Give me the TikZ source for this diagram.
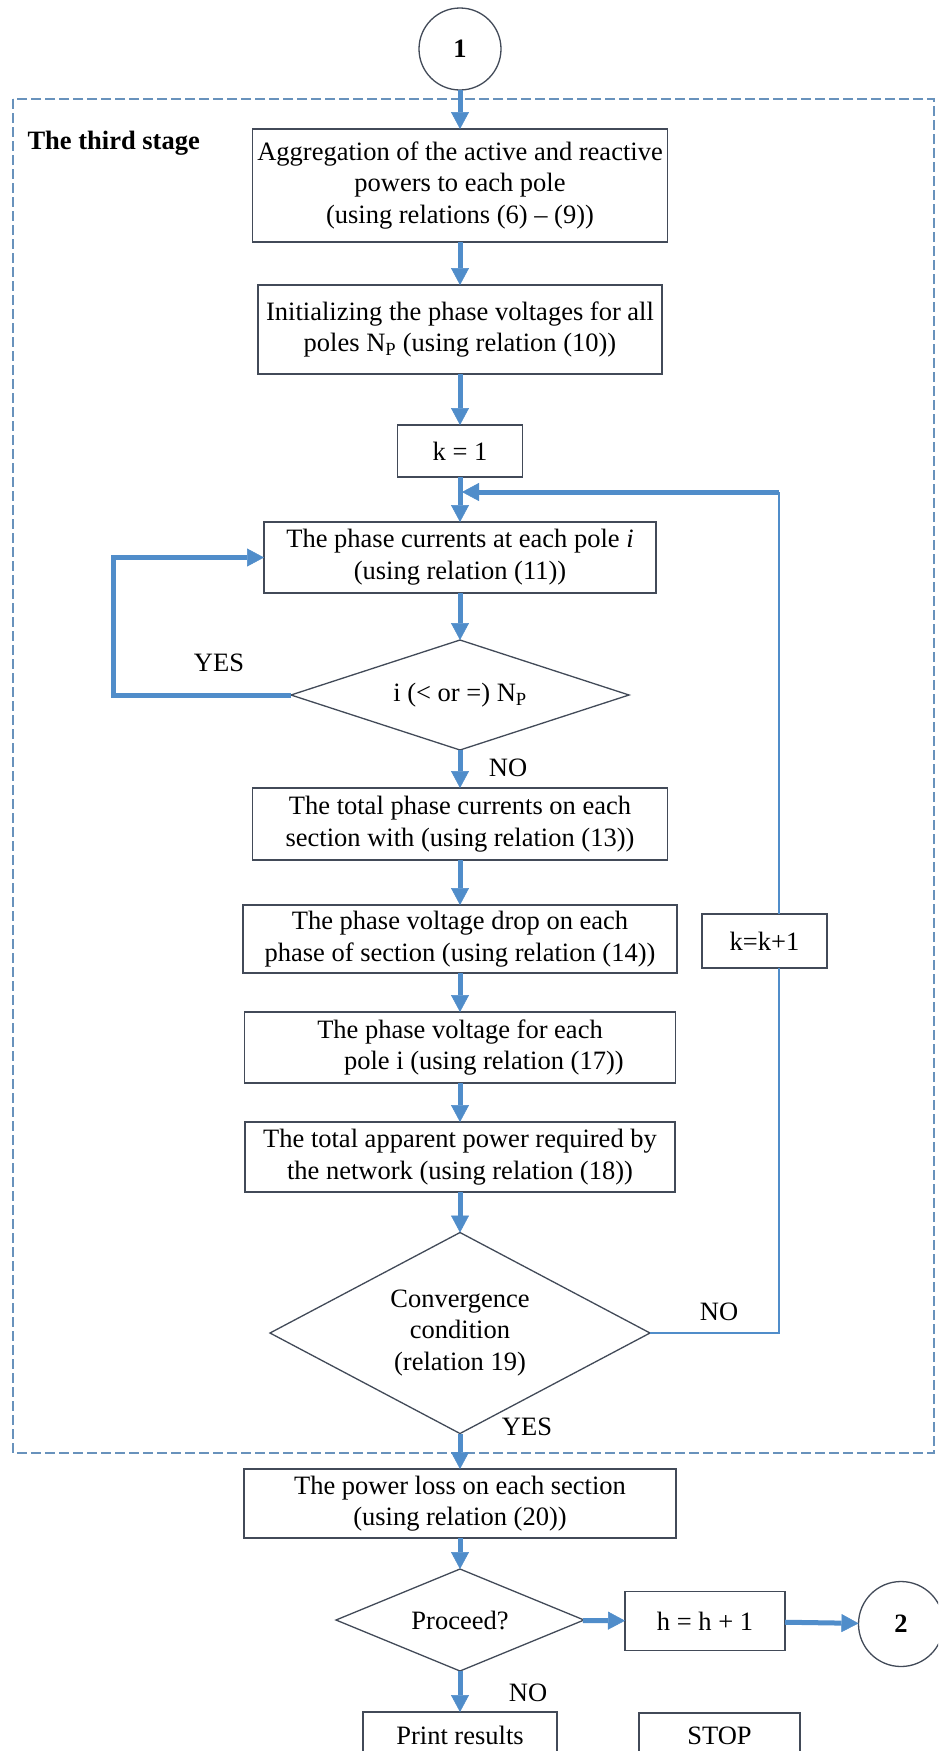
\documentclass[tikz,border=0pt]{standalone}
\usepackage{fontspec}
\setmainfont{Liberation Serif}
\usepackage{xcolor}
\usepackage{tikz}
\usetikzlibrary{positioning, arrows.meta, calc, shapes.geometric}
\definecolor{flowblue}{RGB}{80,141,202}
\definecolor{edgegray}{RGB}{66,74,88}
\definecolor{stageblue}{RGB}{104,146,188}
\newcommand{\flowfont}{\fontsize{26.5}{31.7}\selectfont}

\begin{document}
\begin{tikzpicture}[x=1pt, y=-1pt, font=\flowfont,
  stepbox/.style={rectangle, draw=edgegray, line width=1.3pt, fill=white, align=center, inner sep=0pt, outer sep=0pt},
  decision/.style={diamond, draw=edgegray, line width=1.3pt, fill=white, align=center, inner sep=0pt, outer sep=0pt},
  connector/.style={circle, draw=edgegray, line width=1.3pt, fill=white, inner sep=0pt, outer sep=0pt, font=\flowfont\bfseries},
  flow/.style={draw=flowblue, line width=5pt, -{Triangle[length=17pt, width=18pt, line width=0.5pt]}},
  loopline/.style={draw=flowblue, line width=1.6pt},
  stageframe/.style={draw=stageblue, line width=2pt, dash pattern=on 10pt off 4pt},
  answer/.style={inner sep=0pt}]
  \useasboundingbox (0,0) rectangle (938,1751);
  \clip (0,0) rectangle (938,1751);
  \fill[white] (0,0) rectangle (938,1751);

  \draw[stageframe] (13,99) rectangle (934,1453);
  \node[anchor=west, font=\flowfont\bfseries] (stage) at (24,143) {The third stage};

  \node[connector, minimum size=82pt] (startc) at (460,49) {1};
  \node[stepbox, minimum width=415pt, minimum height=113pt] (aggr) at (460,185.5)
    {Aggregation of the active and reactive\\powers to each pole\\(using relations (6) -- (9))};
  \node[stepbox, minimum width=404pt, minimum height=89pt] (init) at (460,329.5)
    {Initializing the phase voltages for all\\poles N\textsubscript{P} (using relation (10))};
  \node[stepbox, minimum width=125pt, minimum height=52pt] (kone) at (460,451) {k = 1};
  \node[stepbox, minimum width=392pt, minimum height=71pt] (curr) at (460,557.5)
    {The phase currents at each pole \textit{i}\\(using relation (11))};
  \node[decision, aspect=3, minimum width=338pt, minimum height=110pt] (chk) at (460,695)
    {i (< or =) N\textsubscript{P}};
  \node[stepbox, minimum width=415pt, minimum height=72pt] (sumc) at (460,824)
    {The total phase currents on each\\section with (using relation (13))};
  \node[stepbox, minimum width=434pt, minimum height=68pt] (drop) at (460,939)
    {The phase voltage drop on each\\phase of section (using relation (14))};
  \node[stepbox, minimum width=125pt, minimum height=54pt] (kinc) at (764.5,941) {k=k+1};
  \node[stepbox, minimum width=431pt, minimum height=71pt] (volt) at (460,1047.5)
    {The phase voltage for each\\\hspace*{1.8em}pole i (using relation (17))};
  \node[stepbox, minimum width=430pt, minimum height=70pt] (appr) at (460,1157)
    {The total apparent power required by\\the network (using relation (18))};
  \node[decision, aspect=1.9, minimum width=380pt, minimum height=201pt] (conv) at (460,1333)
    {Convergence\\condition\\(relation 19)};
  \node[stepbox, minimum width=432pt, minimum height=69pt] (loss) at (460,1503.5)
    {The power loss on each section\\(using relation (20))};
  \node[decision, aspect=2.4, minimum width=248pt, minimum height=102pt] (proc) at (460,1620) {Proceed?};
  \node[stepbox, minimum width=160pt, minimum height=59pt] (hinc) at (705,1621) {h = h + 1};
  \node[connector, minimum size=85pt] (endc) at (901,1624) {2};
  \node[stepbox, minimum width=194pt, minimum height=46pt] (print) at (460,1735) {Print results};
  \node[stepbox, minimum width=161pt, minimum height=46pt] (stop) at (719.5,1736) {STOP};

  \node[answer] (yes1) at (219,663) {YES};
  \node[answer] (no1) at (508,768) {NO};
  \node[answer] (no2) at (719,1312) {NO};
  \node[answer] (yes2) at (527,1427) {YES};
  \node[answer] (no3) at (528,1693) {NO};

  \coordinate (yesbend) at (113,695);
  \coordinate (nobend) at (779,1333);
  \coordinate (looptop) at (779,492);
  \coordinate (loopin) at (462,492);

  \draw[flow] (startc) -- (aggr);
  \draw[flow] (aggr) -- (init);
  \draw[flow] (init) -- (kone);
  \draw[flow] (kone) -- (curr);
  \draw[flow] (curr) -- (chk);
  \draw[flow] (chk.west) -- (yesbend) |- (curr.west);
  \draw[flow] (chk) -- (sumc);
  \draw[flow] (sumc) -- (drop);
  \draw[flow] (drop) -- (volt);
  \draw[flow] (volt) -- (appr);
  \draw[flow] (appr) -- (conv);
  \draw[loopline] (conv.east) -- (nobend) -- (nobend |- kinc.south);
  \draw[loopline] (nobend |- kinc.north) -- (looptop);
  \draw[flow] (looptop) -- (loopin);
  \draw[flow] (conv) -- (loss);
  \draw[flow] (loss) -- (proc);
  \draw[flow] (proc) -- (hinc);
  \draw[flow] (hinc) -- (endc);
  \draw[flow] (proc) -- (print);
\end{tikzpicture}
\end{document}
